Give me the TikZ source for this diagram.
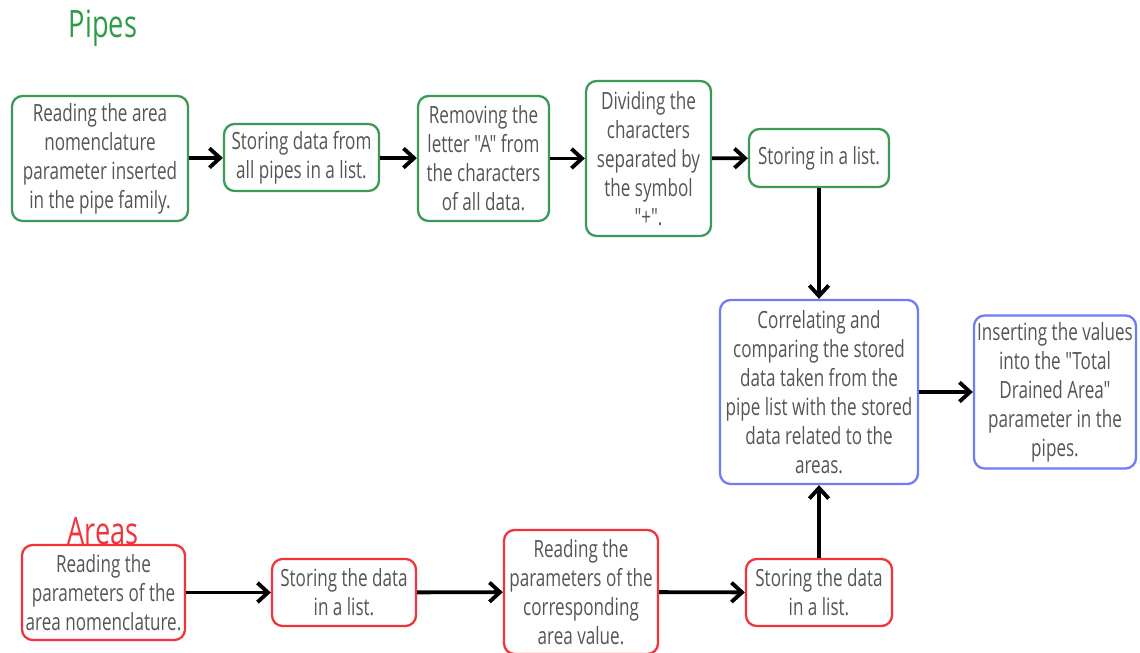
\documentclass[tikz,border=0pt]{standalone}
\usepackage{fontspec}
\setmainfont{Open Sans}[FakeStretch=0.72, Ligatures=TeXOff]
\usetikzlibrary{arrows.meta, positioning}
\definecolor{pgreen}{HTML}{2E9B4A}
\definecolor{pgreenline}{HTML}{3A9A55}
\definecolor{ared}{HTML}{F2333B}
\definecolor{ablue}{HTML}{6E7CF5}
\definecolor{boxtext}{HTML}{555555}

\begin{document}
\begin{tikzpicture}[
  every node/.style={font=\fontsize{13.5}{16.5}\selectfont},
  stepbox/.style={rectangle, rounded corners=6pt, draw=#1, line width=1.3pt, fill=white, text=boxtext, align=center, inner sep=1pt},
  flow/.style={-{Straight Barb[length=6pt, width=11pt, line width=2.2pt]}, line width=2.2pt, black},
  heading/.style={font=\fontsize{21.5}{23}\selectfont, text=#1},
]
\useasboundingbox (0,0) rectangle (22.8,-13.06);

% Pipes branch
\node[heading=pgreen] (pipes) at (2.06, -0.56) {Pipes};

\node[stepbox=pgreenline, minimum width=3.52cm, minimum height=2.50cm] (p1) at (2.00, -3.17) {Reading the area\\nomenclature\\parameter inserted\\in the pipe family.};
\node[stepbox=pgreenline, minimum width=3.10cm, minimum height=1.34cm] (p2) at (6.03, -3.15) {Storing data from\\all pipes in a list.};
\node[stepbox=pgreenline, minimum width=2.62cm, minimum height=2.50cm] (p3) at (9.67, -3.17) {Removing the\\letter "A" from\\the characters\\of all data.};
\node[stepbox=pgreenline, minimum width=2.50cm, minimum height=3.10cm] (p4) at (12.97, -3.17) {Dividing the\\characters\\separated by\\the symbol\\"+".};
\node[stepbox=pgreenline, minimum width=2.80cm, minimum height=1.16cm] (p5) at (16.38, -3.16) {Storing in a list.};

\draw[flow] (p1) -- (p2);
\draw[flow] (p2) -- (p3);
\draw[flow] (p3) -- (p4);
\draw[flow] (p4) -- (p5);

% Correlation and output
\node[stepbox=ablue, minimum width=3.96cm, minimum height=3.68cm] (corr) at (16.38, -7.84) {Correlating and\\comparing the stored\\data taken from the\\pipe list with the stored\\data related to the\\areas.};
\node[stepbox=ablue, minimum width=3.24cm, minimum height=3.06cm] (insert) at (21.10, -7.84) {Inserting the values\\into the "Total\\Drained Area"\\parameter in the\\pipes.};

\draw[flow] (p5) -- (corr);
\draw[flow] (corr) -- (insert);

% Areas branch
\node[stepbox=ared, minimum width=3.26cm, minimum height=1.90cm] (a1) at (2.07, -11.85) {Reading the\\parameters of the\\area nomenclature.};
\node[heading=ared] (areas) at (2.06, -10.62) {Areas};
\node[stepbox=ared, minimum width=2.88cm, minimum height=1.34cm] (a2) at (6.88, -11.85) {Storing the data\\in a list.};
\node[stepbox=ared, minimum width=3.08cm, minimum height=2.48cm] (a3) at (11.62, -11.84) {Reading the\\parameters of the\\corresponding\\area value.};
\node[stepbox=ared, minimum width=2.92cm, minimum height=1.34cm] (a4) at (16.38, -11.85) {Storing the data\\in a list.};

\draw[flow] (a1) -- (a2);
\draw[flow] (a2) -- (a3);
\draw[flow] (a3) -- (a4);
\draw[flow] (a4) -- (corr);

\end{tikzpicture}
\end{document}
